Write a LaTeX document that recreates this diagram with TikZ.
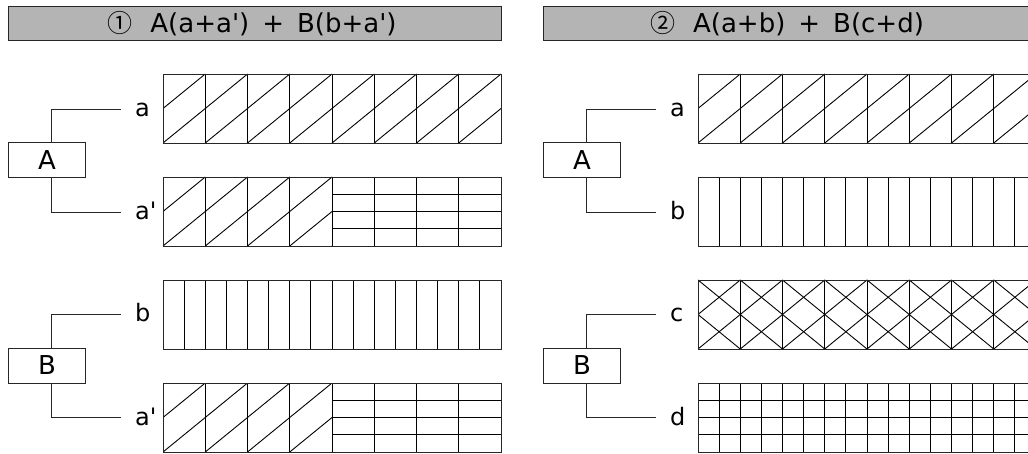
\documentclass[tikz,border=0pt]{standalone}
\usepackage{fontspec}
\newfontfamily\gul{DejaVu Sans}
\newfontfamily\cjk{Noto Sans CJK KR}
\definecolor{hdrgray}{RGB}{180,180,180}
\tikzset{
  ln/.style={line width=0.9pt, black},
  hdr/.style={draw=black!85, fill=hdrgray, line width=0.9pt, minimum width=493.4pt, minimum height=34.7pt, inner sep=0pt, text width=493.4pt, align=center, font=\gul\fontsize{26}{26}\selectfont},
  bx/.style={draw=black!85, line width=0.9pt, minimum width=77.4pt, minimum height=35pt, inner sep=0pt, font=\gul\fontsize{26}{26}\selectfont},
  lb/.style={inner sep=0pt, anchor=west, text height=16pt, text depth=0pt, font=\gul\fontsize{24}{24}\selectfont},
  fr/.style={draw=black!85, line width=0.9pt, minimum width=338pt, minimum height=69pt, anchor=north west, inner sep=0pt},
  conn/.style={line width=0.9pt, black!85}
}
\newcommand\cnum[1]{\hspace*{-6pt}{\cjk\fontsize{25}{25}\selectfont#1}\hspace{18pt}}
\newcommand\gap{\hspace{13pt}}
% #1=x0, #2=y0, #3=number of columns
\newcommand\pVl[3]{%
  \pgfmathsetmacro\cw{338/#3}%
  \pgfmathtruncatemacro\nm{#3-1}%
  \foreach \i in {1,...,\nm} \draw[ln] ({#1+\i*\cw},#2) -- ++(0,69);}
% #1=xstart, #2=y0, #3=xend
\newcommand\pHl[3]{%
  \foreach \j in {1,2,3} \draw[ln] (#1,{#2+\j*17.25}) -- (#3,{#2+\j*17.25});}
% #1=x0, #2=y0, #3=width of hatched part
\newcommand\pDiag[3]{%
  \begin{scope}
    \clip (#1,#2) rectangle ++(#3,69);
    \foreach \k in {-2,...,8} \draw[ln] ({#1+\k*42.25},{#2+69}) -- ({#1+(\k+2)*42.25},#2);
  \end{scope}}
\newcommand\pCross[2]{%
  \begin{scope}
    \clip (#1,#2) rectangle ++(338,69);
    \foreach \k in {-2,...,10} {
      \draw[ln] ({#1+\k*42.25},{#2+69}) -- ({#1+(\k+2)*42.25},#2);
      \draw[ln] ({#1+\k*42.25},{#2+69}) -- ({#1+(\k-2)*42.25},#2);}
  \end{scope}}
\begin{document}
\begin{tikzpicture}[x=1pt,y=-1pt]
\clip (0,0) rectangle (1028,454);
\fill[white] (0,0) rectangle (1028,454);

% ---------- left panel ----------
\node[hdr] (h1) at (255,23.35) {\cnum{①}A(a+a')\gap+\gap B(b+a')};

\node[bx] (A1) at (47,160.3) {A};
\node[bx] (B1) at (47,365.5) {B};
\node[lb] (l11) at (135,109) {a};
\node[lb] (l12) at (135,212) {a'};
\node[lb] (l13) at (135,314) {b};
\node[lb] (l14) at (135,417) {a'};
\draw[conn] ([xshift=4pt]A1.north) |- ([xshift=-14.3pt]l11.west);
\draw[conn] ([xshift=4pt]A1.south) |- ([xshift=-14.3pt]l12.west);
\draw[conn] ([xshift=4pt]B1.north) |- ([xshift=-14.3pt]l13.west);
\draw[conn] ([xshift=4pt]B1.south) |- ([xshift=-14.3pt]l14.west);

% row a
\pDiag{163}{74}{338}
\pVl{163}{74}{8}
\node[fr] (f11) at (163,74) {};
% row a'
\pDiag{163}{177}{169}
\pVl{163}{177}{8}
\pHl{332}{177}{501}
\node[fr] (f12) at (163,177) {};
% row b
\pVl{163}{280}{16}
\node[fr] (f13) at (163,280) {};
% row a'
\pDiag{163}{383}{169}
\pVl{163}{383}{8}
\pHl{332}{383}{501}
\node[fr] (f14) at (163,383) {};

% ---------- right panel ----------
\node[hdr] (h2) at (790,23.35) {\cnum{②}A(a+b)\gap+\gap B(c+d)};

\node[bx] (A2) at (582,160.3) {A};
\node[bx] (B2) at (582,365.5) {B};
\node[lb] (l21) at (670,109) {a};
\node[lb] (l22) at (670,212) {b};
\node[lb] (l23) at (670,314) {c};
\node[lb] (l24) at (670,417) {d};
\draw[conn] ([xshift=4pt]A2.north) |- ([xshift=-14.3pt]l21.west);
\draw[conn] ([xshift=4pt]A2.south) |- ([xshift=-14.3pt]l22.west);
\draw[conn] ([xshift=4pt]B2.north) |- ([xshift=-14.3pt]l23.west);
\draw[conn] ([xshift=4pt]B2.south) |- ([xshift=-14.3pt]l24.west);

% row a
\pDiag{698}{74}{338}
\pVl{698}{74}{8}
\node[fr] (f21) at (698,74) {};
% row b
\pVl{698}{177}{16}
\node[fr] (f22) at (698,177) {};
% row c
\pCross{698}{280}
\pVl{698}{280}{8}
\node[fr] (f23) at (698,280) {};
% row d
\pVl{698}{383}{16}
\pHl{698}{383}{1036}
\node[fr] (f24) at (698,383) {};
\end{tikzpicture}
\end{document}
